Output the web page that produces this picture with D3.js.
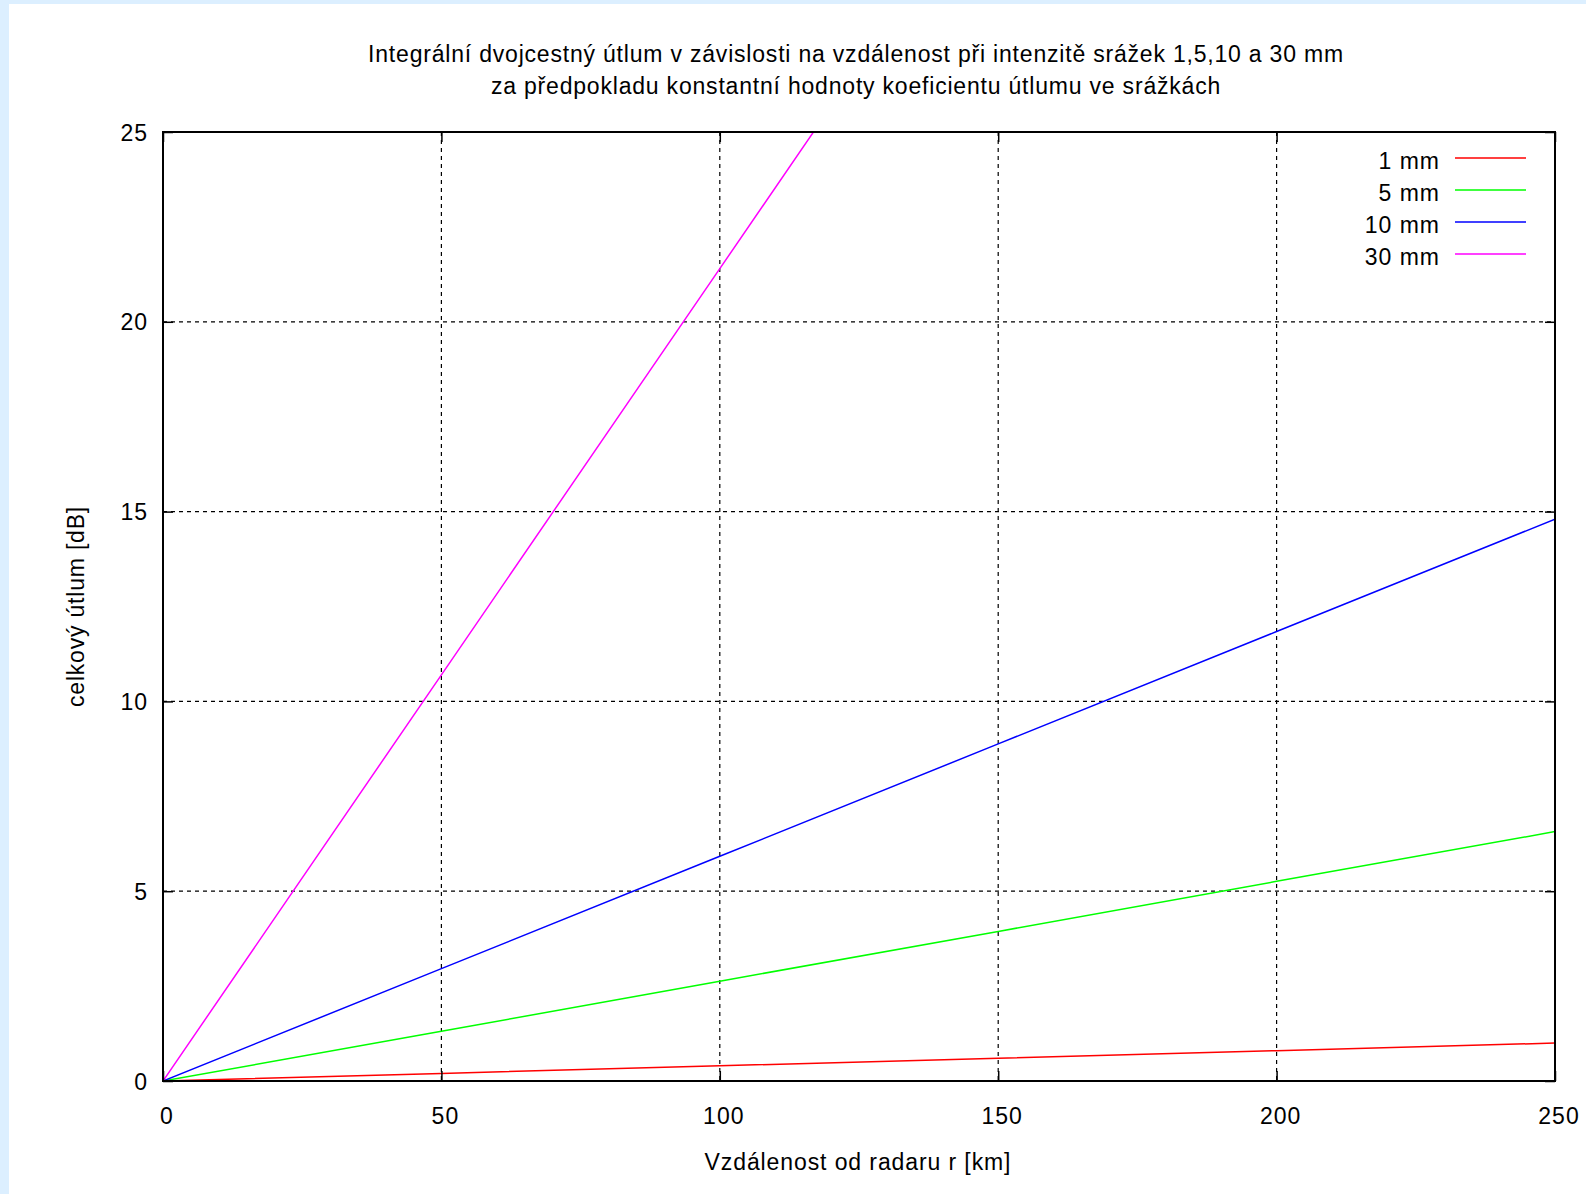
<!DOCTYPE html>
<html>
<head>
<meta charset="utf-8">
<script src="https://cdn.jsdelivr.net/npm/d3@7"></script>
<style>
html,body{margin:0;padding:0;background:#dcefff;}
#wrap{position:absolute;left:9px;top:4px;width:1577px;height:1190px;background:#fff;}
svg{position:absolute;left:0;top:0;}
text{font-family:"Liberation Sans",Arial,sans-serif;fill:#000;}
</style>
</head>
<body>
<div id="wrap"></div>
<svg id="chart" width="1586" height="1194"></svg>
<script>
// ---- data ----
const titleLines = ["Integrální dvojcestný útlum v závislosti na vzdálenost při intenzitě srážek 1,5,10 a 30 mm",
                    "za předpokladu konstantní hodnoty koeficientu útlumu ve srážkách"];
const xLabel = "Vzdálenost od radaru r [km]";
const yLabel = "celkový útlum [dB]";
const distances = [0, 50, 100, 150, 200, 250];
const seriesNames = ["1 mm", "5 mm", "10 mm", "30 mm"];
const values1mm  = [0, 0.20, 0.40, 0.60, 0.80, 1.00];
const values5mm  = [0, 1.31, 2.63, 3.94, 5.26, 6.57];
const values10mm = [0, 2.96, 5.92, 8.88, 11.84, 14.80];
const values30mm = [0, 10.70, 21.40, 32.10, 42.80, 53.50];
const seriesColors = ["#ff0000", "#00ff00", "#0000ff", "#ff00ff"];
const xTicks = [0, 50, 100, 150, 200, 250];
const yTicks = [0, 5, 10, 15, 20, 25];

const series = [values1mm, values5mm, values10mm, values30mm];

// ---- layout ----
const L = 163, R = 1555, T = 132, B = 1081;
const svg = d3.select("#chart");
const x = d3.scaleLinear().domain([0, 250]).range([L, R]);
const y = d3.scaleLinear().domain([0, 25]).range([B, T]);

// grid
const grid = svg.append("g");
grid.selectAll("line.gx").data(xTicks.filter(d => d > 0 && d < 250)).enter().append("line")
  .attr("x1", d => x(d)).attr("x2", d => x(d)).attr("y1", T).attr("y2", B)
  .attr("stroke", "#000").attr("stroke-width", 1.2).attr("stroke-dasharray", "4,4");
grid.selectAll("line.gy").data(yTicks.filter(d => d > 0 && d < 25)).enter().append("line")
  .attr("x1", L).attr("x2", R).attr("y1", d => y(d)).attr("y2", d => y(d))
  .attr("stroke", "#000").attr("stroke-width", 1.2).attr("stroke-dasharray", "4,4");

// data lines
svg.append("clipPath").attr("id", "clip").append("rect")
  .attr("x", L).attr("y", T).attr("width", R - L).attr("height", B - T);
const line = d3.line().x((d, i) => x(distances[i])).y(d => y(d));
svg.append("g").attr("clip-path", "url(#clip)")
  .selectAll("path").data(series).enter().append("path")
  .attr("d", d => line(d)).attr("fill", "none")
  .attr("stroke", (d, i) => seriesColors[i]).attr("stroke-width", 1.5);

// axes via d3 axis (ticks inward, mirrored)
const tl = 10;
const axB = svg.append("g").attr("transform", `translate(0,${B})`)
  .call(d3.axisBottom(x).tickValues(xTicks).tickSize(-tl).tickSizeOuter(0).tickPadding(0).tickFormat(d3.format("d")));
const axT = svg.append("g").attr("transform", `translate(0,${T})`)
  .call(d3.axisTop(x).tickValues(xTicks).tickSize(-tl).tickSizeOuter(0).tickFormat(""));
const axL = svg.append("g").attr("transform", `translate(${L},0)`)
  .call(d3.axisLeft(y).tickValues(yTicks).tickSize(-tl).tickSizeOuter(0).tickFormat(d3.format("d")));
const axR = svg.append("g").attr("transform", `translate(${R},0)`)
  .call(d3.axisRight(y).tickValues(yTicks).tickSize(-tl).tickSizeOuter(0).tickFormat(""));
[axB, axT, axL, axR].forEach(a => {
  a.select(".domain").remove();
  a.selectAll(".tick line").attr("stroke", "#000").attr("stroke-width", 1.5);
});
axB.selectAll(".tick text").attr("y", 43).attr("dy", null).attr("x", 3.5)
  .style("font-size", "23px").style("letter-spacing", "1px")
  .style("font-family", "Liberation Sans, Arial, sans-serif").attr("fill", "#000");
axL.selectAll(".tick text").attr("x", -15).attr("dy", "0.35em")
  .style("font-size", "23px").style("letter-spacing", "1px")
  .style("font-family", "Liberation Sans, Arial, sans-serif").attr("fill", "#000");

// frame
svg.append("rect").attr("x", L).attr("y", T).attr("width", R - L).attr("height", B - T)
  .attr("fill", "none").attr("stroke", "#000").attr("stroke-width", 2);

// title
svg.append("g").selectAll("text").data(titleLines).enter().append("text")
  .attr("x", 856).attr("y", (d, i) => 62 + i * 32).attr("text-anchor", "middle")
  .style("font-size", "23px").style("letter-spacing", "0.8px").text(d => d);

// axis labels
svg.append("text").attr("x", 858).attr("y", 1170).attr("text-anchor", "middle")
  .style("font-size", "23px").style("letter-spacing", "0.9px").text(xLabel);
svg.append("text").attr("transform", `translate(84,${(T + B) / 2}) rotate(-90)`)
  .attr("text-anchor", "middle").style("font-size", "23px").style("letter-spacing", "0.8px").text(yLabel);

// legend
const leg = svg.append("g").selectAll("g").data(seriesNames).enter().append("g")
  .attr("transform", (d, i) => `translate(0,${158 + i * 32})`);
leg.append("text").attr("x", 1440).attr("y", 11).attr("text-anchor", "end")
  .style("font-size", "23px").style("letter-spacing", "1px").text(d => d);
leg.append("line").attr("x1", 1455).attr("x2", 1526).attr("y1", 0).attr("y2", 0)
  .attr("stroke", (d, i) => seriesColors[i]).attr("stroke-width", 1.5);
</script>
</body>
</html>
